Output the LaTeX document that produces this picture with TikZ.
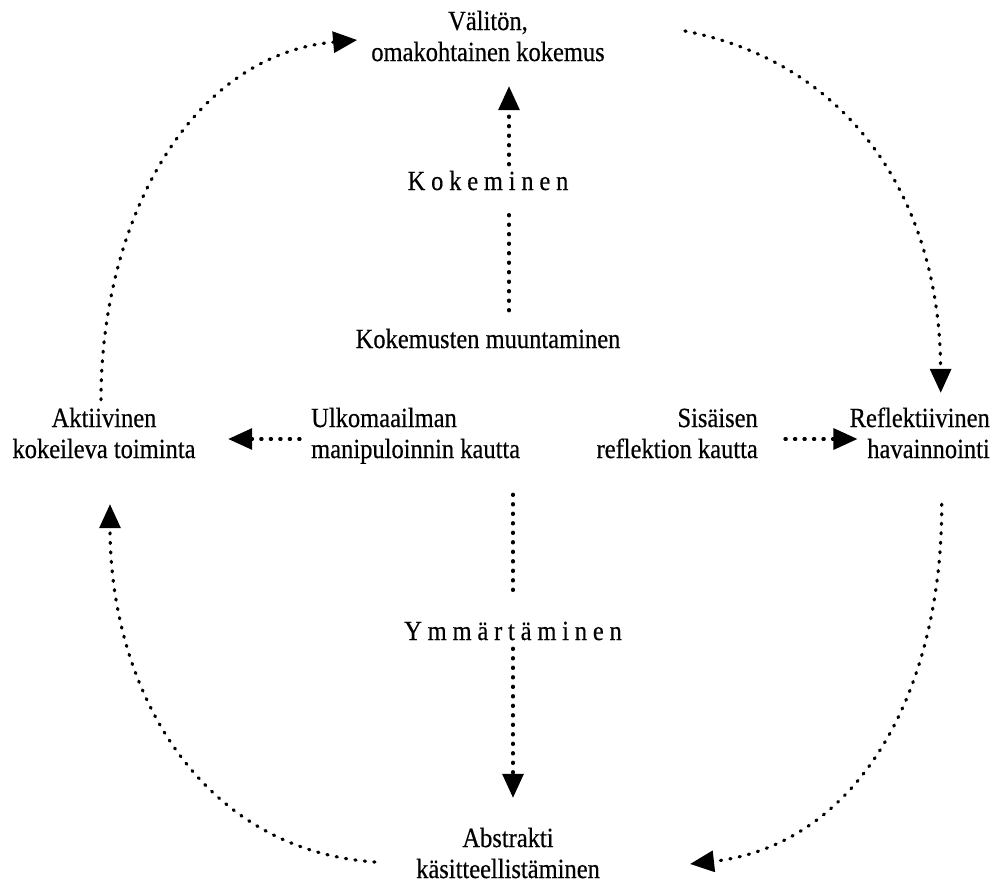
\documentclass[tikz,border=0pt]{standalone}
\usepackage{fontspec}
\usepackage{graphicx}
\setmainfont{Liberation Serif}
\newfontfamily\lblfont{Liberation Serif}[FakeBold=0.5]
\usetikzlibrary{arrows.meta}

% one line of label text, slightly tall, with a fixed strut
\newcommand\sline[1]{\rule[-6pt]{0pt}{19pt}\smash{\scalebox{1}[1.13]{#1}}}
% gap between letters of the spaced-out process names
\newcommand\lgap{\hspace{5.8pt}}

\tikzset{
  lbl/.style={inner sep=0pt, font=\lblfont\fontsize{24.5}{31}\selectfont},
  dotln/.style={line width=3.2pt, line cap=round, dash pattern=on 1.2pt off 8.3pt},
  headed/.style={-{Triangle[length=24pt,width=21pt]}}
}

\begin{document}
\begin{tikzpicture}[x=1pt,y=-1pt]
\useasboundingbox (0,0) rectangle (996,886);

% the four stages
\node[lbl, align=center] (top) at (488,42) {\sline{Välitön,}\\\sline{omakohtainen kokemus}};
\node[lbl, align=center] (act) at (104,439) {\sline{Aktiivinen}\\\sline{kokeileva toiminta}};
\node[lbl, align=right, anchor=east] (refl) at (990,439) {\sline{Reflektiivinen}\\\sline{havainnointi}};
\node[lbl, align=center] (abs) at (508,859) {\sline{Abstrakti}\\\sline{käsitteellistäminen}};

% the inner labels
\node[lbl] (kok) at (488,186.5) {\sline{K\lgap o\lgap k\lgap e\lgap m\lgap i\lgap n\lgap e\lgap n}};
\node[lbl] (muun) at (488,344.5) {\sline{Kokemusten muuntaminen}};
\node[lbl, align=left, anchor=west] (ulk) at (311,439) {\sline{Ulkomaailman}\\\sline{manipuloinnin kautta}};
\node[lbl, align=right, anchor=east] (sis) at (758,439) {\sline{Sisäisen}\\\sline{reflektion kautta}};
\node[lbl] (ymm) at (513,636.5) {\sline{Y\lgap m\lgap m\lgap ä\lgap r\lgap t\lgap ä\lgap m\lgap i\lgap n\lgap e\lgap n}};

% vertical axis: grasping by experience
\draw[dotln, shorten <=24pt, shorten >=11pt] ([xshift=21pt]muun.north) -- ([xshift=21pt]kok.south);
\draw[dotln, headed, shorten <=12pt, shorten >=19pt] ([xshift=21pt]kok.north) -- ([xshift=21pt]top.south);

% vertical axis: grasping by comprehension
\draw[dotln, shorten <=30pt, shorten >=31pt] (ulk.south -| ymm.north) -- (ymm.north);
\draw[dotln, headed, shorten <=2pt, shorten >=36pt] (ymm.south) -- (ymm.south |- abs.north);

% horizontal axis: transformation
\draw[dotln, headed, shorten <=11pt, shorten >=32.5pt] (ulk.west) -- (act.east);
\draw[dotln, headed, shorten <=27pt, shorten >=-8pt] (sis.east) -- (refl.west);

% the learning cycle
\draw[dotln, headed] ([xshift=-3pt,yshift=14pt]act.north)
  .. controls (101,220) and (190,55) .. ([xshift=-14pt,yshift=2pt]top.west);
\draw[dotln, headed] ([xshift=80pt,yshift=11pt]top.east)
  .. controls (850,63) and (940,200) .. ([xshift=21pt,yshift=21pt]refl.north);
\draw[dotln, headed] ([xshift=22pt,yshift=-40pt]refl.south)
  .. controls (942,704) and (850,846) .. ([xshift=90pt,yshift=-5pt]abs.east);
\draw[dotln, headed] ([xshift=-41pt,yshift=-3pt]abs.west)
  .. controls (200,850) and (110,690) .. ([xshift=6pt,yshift=-40pt]act.south);
\end{tikzpicture}
\end{document}
